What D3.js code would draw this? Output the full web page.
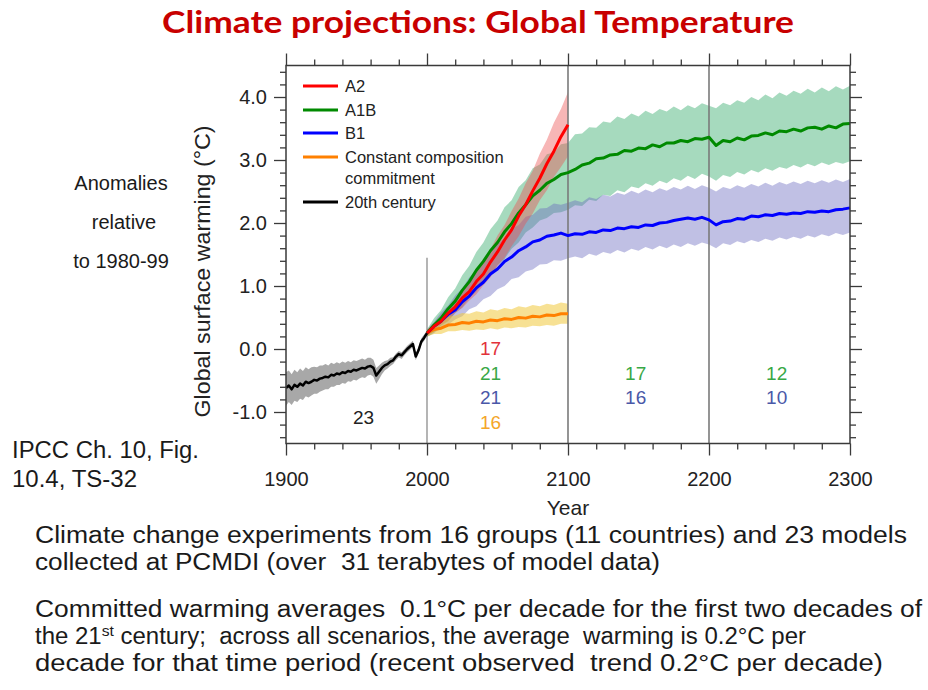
<!DOCTYPE html>
<html>
<head>
<meta charset="utf-8">
<script src="https://cdn.jsdelivr.net/npm/d3@7"></script>
<style>
  body { margin: 0; background: #fff; }
  svg { display: block; }
  text { white-space: pre; }
</style>
</head>
<body>
<svg id="chart" width="928" height="690"></svg>
<script>
// ---------- data ----------
// 20th century simulations, 1900-2000 every 2 years
const c20Start = 1900, c20Step = 2;
const c20Mean = [-0.62,-0.58,-0.64,-0.57,-0.60,-0.55,-0.58,-0.52,-0.54,-0.52,-0.49,-0.50,-0.47,-0.46,-0.44,-0.45,-0.41,-0.42,-0.39,-0.40,-0.37,-0.38,-0.35,-0.36,-0.33,-0.34,-0.32,-0.30,-0.31,-0.28,-0.27,-0.30,-0.42,-0.36,-0.30,-0.26,-0.24,-0.20,-0.18,-0.12,-0.08,-0.10,-0.05,0.00,0.04,0.08,-0.12,-0.02,0.12,0.18,0.25];
const c20Hi = [-0.37,-0.34,-0.40,-0.33,-0.37,-0.31,-0.35,-0.29,-0.32,-0.29,-0.28,-0.29,-0.26,-0.26,-0.24,-0.26,-0.22,-0.24,-0.21,-0.23,-0.20,-0.22,-0.19,-0.21,-0.18,-0.19,-0.17,-0.15,-0.17,-0.14,-0.14,-0.17,-0.30,-0.26,-0.22,-0.19,-0.18,-0.14,-0.13,-0.07,-0.03,-0.05,0.00,0.05,0.09,0.13,-0.07,0.03,0.17,0.23,0.29];
const c20Lo = [-0.90,-0.84,-0.89,-0.82,-0.84,-0.79,-0.81,-0.75,-0.77,-0.74,-0.71,-0.71,-0.68,-0.66,-0.64,-0.64,-0.60,-0.60,-0.57,-0.57,-0.54,-0.55,-0.51,-0.52,-0.49,-0.50,-0.47,-0.45,-0.46,-0.42,-0.41,-0.44,-0.55,-0.48,-0.40,-0.34,-0.31,-0.27,-0.24,-0.18,-0.13,-0.16,-0.10,-0.05,-0.01,0.03,-0.18,-0.07,0.07,0.13,0.21];

// scenario runs, every 5 years from 2000
const scenStart = 2000, scenStep = 5;
const a2Mean = [0.25,0.36,0.44,0.57,0.67,0.81,0.91,1.07,1.19,1.38,1.54,1.73,1.89,2.11,2.29,2.51,2.71,2.94,3.14,3.37,3.56];
const a2Hi   = [0.30,0.41,0.54,0.65,0.81,0.93,1.09,1.23,1.41,1.58,1.80,1.97,2.19,2.39,2.63,2.83,3.10,3.32,3.59,3.81,4.08];
const a2Lo   = [0.21,0.29,0.38,0.45,0.57,0.65,0.77,0.87,1.01,1.14,1.32,1.45,1.63,1.79,1.99,2.15,2.36,2.52,2.73,2.89,3.06];

const a1bMean = [0.25,0.38,0.49,0.64,0.76,0.93,1.07,1.25,1.39,1.56,1.69,1.86,1.99,2.16,2.29,2.43,2.52,2.63,2.69,2.77,2.80,
  2.85,2.92,2.95,3.02,3.03,3.08,3.09,3.15,3.14,3.19,3.18,3.24,3.21,3.27,3.27,3.31,3.29,3.34,3.33,3.36,
  3.23,3.31,3.29,3.35,3.32,3.38,3.39,3.43,3.40,3.46,3.45,3.49,3.46,3.51,3.52,3.49,3.54,3.51,3.57,3.58];
const a1bHi = [0.31,0.49,0.62,0.82,0.96,1.17,1.32,1.54,1.69,1.90,2.04,2.25,2.36,2.57,2.68,2.87,2.93,3.09,3.12,3.25,3.27,
  3.41,3.42,3.52,3.51,3.61,3.59,3.69,3.65,3.74,3.69,3.78,3.73,3.81,3.77,3.85,3.79,3.87,3.82,3.90,3.86,
  3.82,3.91,3.87,3.95,3.91,4.00,3.95,4.04,3.98,4.07,4.02,4.10,4.05,4.13,4.07,4.15,4.09,4.17,4.12,4.18];
const a1bLo = [0.19,0.26,0.37,0.44,0.57,0.66,0.81,0.91,1.07,1.17,1.33,1.43,1.59,1.69,1.85,1.93,2.04,2.08,2.16,2.17,2.21,
  2.28,2.27,2.37,2.35,2.45,2.43,2.52,2.49,2.58,2.55,2.63,2.59,2.67,2.63,2.71,2.67,2.75,2.70,2.78,2.74,
  2.67,2.76,2.73,2.81,2.77,2.84,2.80,2.87,2.83,2.89,2.86,2.92,2.88,2.94,2.90,2.96,2.92,2.97,2.94,2.98];

const b1Mean = [0.25,0.36,0.44,0.55,0.62,0.75,0.84,0.97,1.06,1.19,1.27,1.39,1.46,1.56,1.62,1.70,1.73,1.79,1.81,1.84,1.80,
  1.83,1.82,1.86,1.85,1.89,1.88,1.92,1.91,1.94,1.93,1.97,1.96,2.00,2.01,2.04,2.06,2.08,2.06,2.09,2.05,
  1.97,2.02,2.03,2.07,2.06,2.11,2.10,2.13,2.12,2.15,2.14,2.16,2.15,2.18,2.17,2.19,2.18,2.21,2.22,2.24];
const b1Hi = [0.31,0.43,0.58,0.69,0.85,0.96,1.14,1.24,1.42,1.51,1.67,1.76,1.91,1.97,2.10,2.13,2.23,2.24,2.31,2.29,2.32,
  2.36,2.33,2.41,2.38,2.45,2.42,2.48,2.45,2.51,2.47,2.53,2.49,2.55,2.51,2.57,2.53,2.59,2.54,2.60,2.56,
  2.50,2.57,2.54,2.60,2.56,2.62,2.58,2.64,2.59,2.65,2.61,2.66,2.62,2.67,2.63,2.68,2.64,2.69,2.65,2.70];
const b1Lo = [0.20,0.25,0.34,0.39,0.47,0.52,0.63,0.68,0.79,0.84,0.95,1.00,1.11,1.14,1.23,1.26,1.34,1.35,1.41,1.40,1.44,
  1.47,1.44,1.51,1.48,1.54,1.51,1.57,1.53,1.59,1.56,1.62,1.58,1.64,1.60,1.66,1.62,1.68,1.64,1.69,1.66,
  1.60,1.68,1.65,1.71,1.68,1.73,1.70,1.75,1.72,1.77,1.74,1.78,1.75,1.80,1.77,1.82,1.79,1.84,1.81,1.85];

const commitMean = [0.25,0.31,0.33,0.38,0.39,0.42,0.41,0.44,0.43,0.46,0.45,0.48,0.47,0.50,0.49,0.52,0.51,0.54,0.53,0.56,0.56];
const commitHi   = [0.30,0.40,0.45,0.51,0.53,0.57,0.56,0.60,0.58,0.63,0.61,0.65,0.63,0.68,0.66,0.70,0.68,0.72,0.70,0.74,0.72];
const commitLo   = [0.20,0.24,0.24,0.28,0.28,0.30,0.29,0.31,0.30,0.33,0.31,0.34,0.33,0.35,0.34,0.37,0.36,0.38,0.37,0.40,0.40];

// number of models per period and scenario
const periods      = ["1900-2000", "2000-2100", "2100-2200", "2200-2300"];
const count20C     = [23, null, null, null];
const countA2      = [null, 17, null, null];
const countA1B     = [null, 21, 17, 12];
const countB1      = [null, 21, 16, 10];
const countCommit  = [null, 16, null, null];

// axis ticks
const xMajorTicks = [1900, 2000, 2100, 2200, 2300];
const yMajorTicks = [-1, 0, 1, 2, 3, 4];
const yTickLabels = ["-1.0", "0.0", "1.0", "2.0", "3.0", "4.0"];
const periodBreaks = [2100, 2200];

// ---------- layout ----------
const svg = d3.select("#chart");
const sans = "'Liberation Sans', Arial, Helvetica, sans-serif";
const x = d3.scaleLinear().domain([1900, 2300]).range([286, 850]);
const y = d3.scaleLinear().domain([-1.5, 4.5]).range([443.5, 65.5]);

const toPoints = (start, step, mean, lo, hi) =>
  mean.map((m, i) => ({ year: start + i * step, m, lo: lo[i], hi: hi[i] }));

const series = [
  { key: "c20",    pts: toPoints(c20Start, c20Step, c20Mean, c20Lo, c20Hi),          line: "#000000", band: "rgba(110,110,110,0.6)", width: 2.5 },
  { key: "a1b",    pts: toPoints(scenStart, scenStep, a1bMean, a1bLo, a1bHi),        line: "#008a00", band: "rgba(70,178,120,0.48)",  width: 3 },
  { key: "b1",     pts: toPoints(scenStart, scenStep, b1Mean, b1Lo, b1Hi),           line: "#0000ff", band: "rgba(105,105,190,0.42)", width: 3 },
  { key: "a2",     pts: toPoints(scenStart, scenStep, a2Mean, a2Lo, a2Hi),           line: "#ff0000", band: "rgba(235,80,80,0.42)",  width: 3 },
  { key: "commit", pts: toPoints(scenStart, scenStep, commitMean, commitLo, commitHi), line: "#ff8000", band: "rgba(240,200,60,0.55)", width: 3 }
];

const plot = svg.append("g");

// uncertainty bands
const area = d3.area().x(d => x(d.year)).y0(d => y(d.lo)).y1(d => y(d.hi));
plot.selectAll("path.band").data(series).join("path")
  .attr("class", "band")
  .attr("d", d => area(d.pts))
  .attr("fill", d => d.band);

// period separators
plot.selectAll("line.sep").data(periodBreaks).join("line")
  .attr("class", "sep")
  .attr("x1", d => x(d)).attr("x2", d => x(d))
  .attr("y1", y(4.5)).attr("y2", y(-1.5))
  .attr("stroke", "#7a7a7a").attr("stroke-width", 1.6);
plot.append("line")
  .attr("x1", x(2000)).attr("x2", x(2000))
  .attr("y1", y(1.45)).attr("y2", y(-1.5))
  .attr("stroke", "#777").attr("stroke-width", 1.1);

// mean curves
const line = d3.line().x(d => x(d.year)).y(d => y(d.m));
const lineOrder = ["commit", "b1", "a1b", "a2", "c20"];
plot.selectAll("path.mean").data(lineOrder.map(k => series.find(s => s.key === k))).join("path")
  .attr("class", "mean")
  .attr("d", d => line(d.pts))
  .attr("fill", "none")
  .attr("stroke", d => d.line)
  .attr("stroke-width", d => d.width)
  .attr("stroke-linejoin", "round");

// frame
svg.append("rect")
  .attr("x", x(1900)).attr("y", y(4.5))
  .attr("width", x(2300) - x(1900)).attr("height", y(-1.5) - y(4.5))
  .attr("fill", "none").attr("stroke", "#3a3a3a").attr("stroke-width", 1.5);

// axes
const xMinor = d3.range(1900, 2301, 20).filter(v => !xMajorTicks.includes(v));
const yMinor = d3.range(-7, 23).map(v => v / 5).filter(v => !yMajorTicks.some(t => Math.abs(t - v) < 1e-9));
const axisStyle = g => {
  g.select(".domain").remove();
  g.selectAll(".tick line").attr("stroke", "#3a3a3a").attr("stroke-width", 1.3);
  g.selectAll(".tick text").attr("fill", "#222").attr("font-family", sans).attr("font-size", 20);
};
const yLabel = d => yTickLabels[yMajorTicks.indexOf(d)];

svg.append("g").attr("transform", `translate(0,${y(-1.5)})`)
  .call(d3.axisBottom(x).tickValues(xMajorTicks).tickSize(12).tickPadding(16).tickFormat(d3.format("d"))).call(axisStyle);
svg.append("g").attr("transform", `translate(0,${y(-1.5)})`)
  .call(d3.axisBottom(x).tickValues(xMinor).tickSize(6).tickFormat("")).call(axisStyle);
svg.append("g").attr("transform", `translate(0,${y(4.5)})`)
  .call(d3.axisTop(x).tickValues(xMajorTicks).tickSize(12).tickFormat("")).call(axisStyle);
svg.append("g").attr("transform", `translate(0,${y(4.5)})`)
  .call(d3.axisTop(x).tickValues(xMinor).tickSize(6).tickFormat("")).call(axisStyle);
svg.append("g").attr("transform", `translate(${x(1900)},0)`)
  .call(d3.axisLeft(y).tickValues(yMajorTicks).tickSize(12).tickPadding(7).tickFormat(yLabel)).call(axisStyle);
svg.append("g").attr("transform", `translate(${x(1900)},0)`)
  .call(d3.axisLeft(y).tickValues(yMinor).tickSize(6).tickFormat("")).call(axisStyle);
svg.append("g").attr("transform", `translate(${x(2300)},0)`)
  .call(d3.axisRight(y).tickValues(yMajorTicks).tickSize(12).tickFormat("")).call(axisStyle);
svg.append("g").attr("transform", `translate(${x(2300)},0)`)
  .call(d3.axisRight(y).tickValues(yMinor).tickSize(6).tickFormat("")).call(axisStyle);

// axis titles
svg.append("text")
  .attr("x", x(2100)).attr("y", 515)
  .attr("text-anchor", "middle").attr("font-family", sans).attr("font-size", 21).attr("fill", "#222")
  .text("Year");
svg.append("text")
  .attr("transform", `translate(210,${(y(4.5) + y(-1.5)) / 2 + 17}) rotate(-90)`)
  .attr("text-anchor", "middle").attr("font-family", sans).attr("font-size", 22).attr("fill", "#222")
  .attr("textLength", 292).attr("lengthAdjust", "spacingAndGlyphs")
  .text("Global surface warming (°C)");

// legend
const legendItems = [
  { label: ["A2"], color: "#ff0000" },
  { label: ["A1B"], color: "#008a00" },
  { label: ["B1"], color: "#0000ff" },
  { label: ["Constant composition", "commitment"], color: "#ff8000" },
  { label: ["20th century"], color: "#000000" }
];
const legendRows = [86, 110, 133, 157, 202];
const legend = svg.append("g");
legendItems.forEach((item, i) => {
  const cy = legendRows[i];
  legend.append("line")
    .attr("x1", 303).attr("x2", 338).attr("y1", cy).attr("y2", cy)
    .attr("stroke", item.color).attr("stroke-width", 3);
  item.label.forEach((t, j) => {
    legend.append("text")
      .attr("x", 345).attr("y", cy + 6 + j * 20.5)
      .attr("font-family", sans).attr("font-size", 16.5).attr("fill", "#222")
      .text(t);
  });
});

// model counts per period
const countRows = [
  { counts: countA2, color: "#e2323a", row: 0 },
  { counts: countA1B, color: "#38a846", row: 1 },
  { counts: countB1, color: "#4a58a8", row: 2 },
  { counts: countCommit, color: "#f4a62a", row: 3 },
  { counts: count20C, color: "#222222", row: 2.8 }
];
const periodCentre = [1955, 2045, 2148, 2248];
const counts = svg.append("g");
countRows.forEach(r => {
  r.counts.forEach((c, i) => {
    if (c == null) return;
    counts.append("text")
      .attr("x", x(periodCentre[i])).attr("y", 355 + r.row * 24.6)
      .attr("text-anchor", "middle").attr("font-family", sans).attr("font-size", 19)
      .attr("fill", r.color).text(c);
  });
});

// title
svg.append("text")
  .attr("x", 478).attr("y", 33)
  .attr("text-anchor", "middle")
  .attr("font-family", "Lato, 'Open Sans', sans-serif").attr("font-weight", 700).attr("font-size", 31)
  .attr("fill", "#c80000")
  .attr("textLength", 632).attr("lengthAdjust", "spacingAndGlyphs")
  .text("Climate projections: Global Temperature");

// side notes
const sideNotes = [
  { t: "Anomalies", x: 121, y: 190 },
  { t: "relative", x: 124, y: 229 },
  { t: "to 1980-99", x: 121, y: 268 }
];
svg.selectAll("text.side").data(sideNotes).join("text")
  .attr("class", "side")
  .attr("x", d => d.x).attr("y", d => d.y)
  .attr("text-anchor", "middle").attr("font-family", sans).attr("font-size", 20).attr("fill", "#1a1a1a")
  .text(d => d.t);

const source = [
  { t: "IPCC Ch. 10, Fig.", y: 458, w: 187 },
  { t: "10.4, TS-32", y: 487, w: 125 }
];
svg.selectAll("text.src").data(source).join("text")
  .attr("class", "src")
  .attr("x", 12).attr("y", d => d.y)
  .attr("font-family", sans).attr("font-size", 23).attr("fill", "#1a1a1a")
  .attr("textLength", d => d.w).attr("lengthAdjust", "spacingAndGlyphs")
  .text(d => d.t);

// body text
const body = [
  { parts: [["Climate change experiments from 16 groups (11 countries) and 23 models"]], y: 543, w: 872 },
  { parts: [["collected at PCMDI (over  31 terabytes of model data)"]], y: 570, w: 625 },
  { parts: [["Committed warming averages  0.1°C per decade for the first two decades of"]], y: 617, w: 887 },
  { parts: [["the 21"], ["st", true], [" century;  across all scenarios, the average  warming is 0.2°C per"]], y: 644, w: 771 },
  { parts: [["decade for that time period (recent observed  trend 0.2°C per decade)"]], y: 671, w: 848 }
];
body.forEach(b => {
  const t = svg.append("text")
    .attr("x", 35).attr("y", b.y)
    .attr("font-family", sans).attr("font-size", 23).attr("fill", "#1a1a1a")
    .attr("textLength", b.w).attr("lengthAdjust", "spacingAndGlyphs");
  b.parts.forEach(([s, sup]) => {
    const ts = t.append("tspan").text(s);
    if (sup) ts.attr("font-size", 15).attr("dy", -8);
    else if (t.selectAll("tspan").size() > 1) ts.attr("dy", 8);
  });
});
</script>
</body>
</html>
